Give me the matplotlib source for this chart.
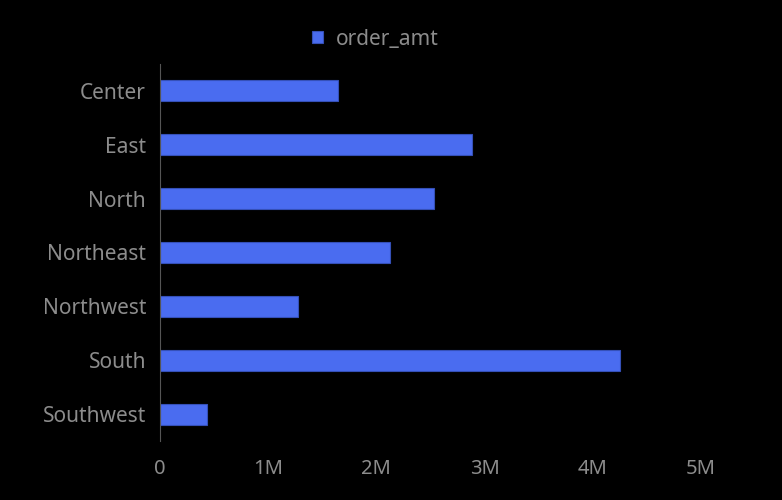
import matplotlib.pyplot as plt
from matplotlib.ticker import FuncFormatter

regions = ["Center", "East", "North", "Northeast", "Northwest", "South", "Southwest"]
order_amt = [1645000, 2880000, 2530000, 2130000, 1275000, 4250000, 434000]

plt.rcParams['font.family'] = ['Noto Sans', 'DejaVu Sans']
text_col = '#8c8c8c'
bar_col = '#4a6cf0'

fig = plt.figure(figsize=(7.82, 5), dpi=100, facecolor='black')
ax = fig.add_axes([160 / 782, 1 - 441 / 500, (701 - 160) / 782, (441 - 64) / 500])
ax.set_facecolor('black')

ypos = list(range(len(regions)))
ax.barh(ypos, order_amt, height=0.39, color=bar_col, edgecolor='#3550b8',
        linewidth=0.8, label='order_amt')
ax.set_yticks(ypos)
ax.set_yticklabels(regions)
ax.set_ylim(len(regions) - 0.5, -0.5)
ax.set_xlim(0, 5000000)
ax.set_xticks([0, 1e6, 2e6, 3e6, 4e6, 5e6])
ax.xaxis.set_major_formatter(FuncFormatter(lambda v, p: '0' if v == 0 else '%dM' % (v / 1e6)))

for s in ['top', 'right', 'bottom']:
    ax.spines[s].set_visible(False)
ax.spines['left'].set_color('#555555')
ax.tick_params(axis='both', length=0, colors=text_col)
ax.tick_params(axis='y', pad=10, labelsize=15)
ax.tick_params(axis='x', pad=13, labelsize=14.5)

leg = fig.legend(loc='center', bbox_to_anchor=(375 / 782, 1 - 39 / 500), frameon=False,
                 fontsize=15, handlelength=0.55, handleheight=0.55, handletextpad=0.6)
for t in leg.get_texts():
    t.set_color(text_col)

fig.savefig('out.png', dpi=100, facecolor='black')
